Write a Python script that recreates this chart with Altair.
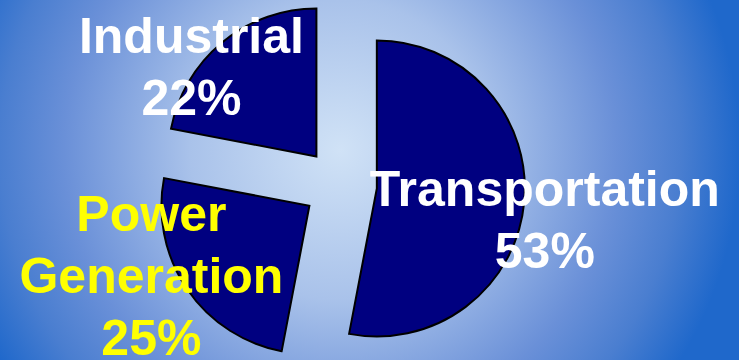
import math
import altair as alt
import pandas as pd

# ---- data ----
categories = ["Transportation", "Power Generation", "Industrial"]
shares = [53, 25, 22]

df = pd.DataFrame({"category": categories, "share": shares,
                   "order": list(range(len(categories)))})

W, H = 739, 360
CX, CY = 340, 185      # pie centre (px)
EXPLODE = 37           # explosion distance (px)
R = 148                # pie radius (px)
TAU = 2 * math.pi
FONT = "Liberation Sans, Arial, sans-serif"

base = (
    alt.Chart(df)
    .transform_joinaggregate(total="sum(share)")
    .transform_window(cum="sum(share)", sort=[alt.SortField("order")])
    .transform_calculate(start="(datum.cum - datum.share) / datum.total",
                         end="datum.cum / datum.total")
    .transform_calculate(mid="(datum.start + datum.end) * PI")
    .transform_calculate(ox="sin(datum.mid)", oy="-cos(datum.mid)",
                         label="replace(datum.category, ' ', '\\n') + '\\n' + datum.share + '%'")
)

x_enc = alt.X("ox:Q", scale=alt.Scale(domain=[-1, 1], range=[CX - EXPLODE, CX + EXPLODE]), axis=None)
y_enc = alt.Y("oy:Q", scale=alt.Scale(domain=[-1, 1], range=[CY - EXPLODE, CY + EXPLODE]), axis=None)

# ---- background radial gradient ----
bg = alt.Chart(pd.DataFrame({"a": [0]})).mark_rect(
    fill={
        "gradient": "radial",
        "x1": 0.5, "y1": 0.5, "r1": 0,
        "x2": 0.5, "y2": 0.5, "r2": 0.5,
        "stops": [
            {"offset": 0.0, "color": "#d0e2f6"},
            {"offset": 0.375, "color": "#a9c2ea"},
            {"offset": 0.69, "color": "#6a90d8"},
            {"offset": 0.85, "color": "#4a7ed0"},
            {"offset": 1.0, "color": "#1f68cb"},
        ],
    },
    stroke=None,
).encode(
    x=alt.value(CX - 400), x2=alt.value(CX + 400),
    y=alt.value(150 - 400), y2=alt.value(150 + 400),
)

arcs = base.mark_arc(radius=R, fill="#000080", stroke="black", strokeWidth=2).encode(
    theta=alt.Theta("start:Q", scale=alt.Scale(domain=[0, 1], range=[0, TAU]), stack=None),
    theta2=alt.Theta2("end:Q"),
    x=x_enc,
    y=y_enc,
)


def label_layer(cat, color, dx, dy):
    return base.transform_filter(alt.datum.category == cat).mark_text(
        font=FONT, fontSize=50, fontWeight="bold", color=color,
        align="center", baseline="middle", lineBreak="\n", lineHeight=62,
        dx=dx, dy=dy,
    ).encode(x=x_enc, y=y_enc, text="label:N")


labels = [
    label_layer("Transportation", "white", 168, 3),
    label_layer("Power Generation", "#ffff00", -158, 10),
    label_layer("Industrial", "white", -125, -118),
]

chart = alt.layer(bg, arcs, *labels).properties(
    width=W, height=H,
    autosize=alt.AutoSizeParams(type="none"),
    padding=0,
    background="#2a6ccb",
).configure_view(stroke=None)

chart.save("out.html", embed_options={"renderer": "svg", "actions": False})
